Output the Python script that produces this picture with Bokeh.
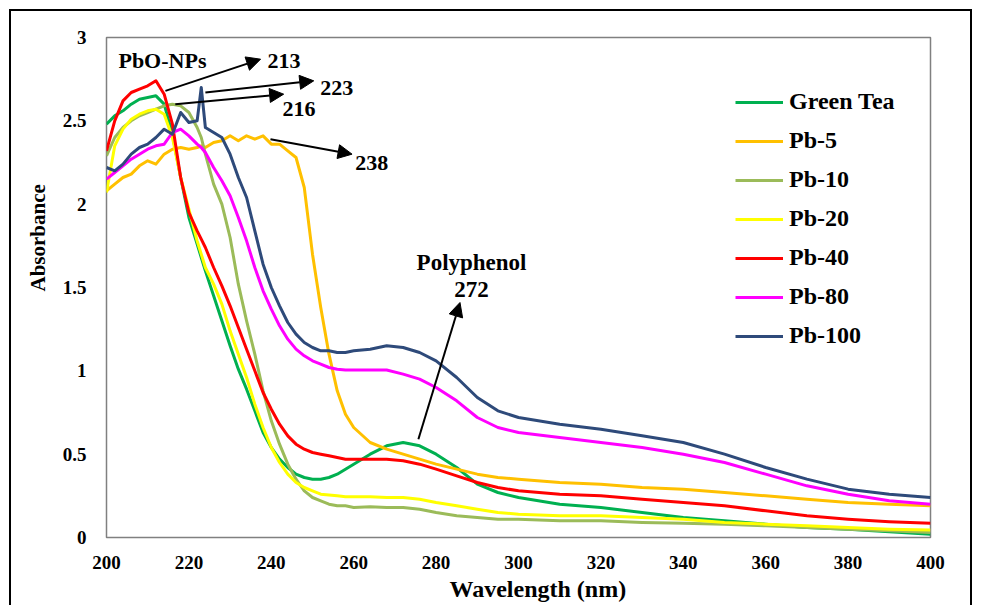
from bokeh.plotting import figure
from bokeh.models import Legend, LegendItem, Arrow, NormalHead, Label, FixedTicker, ColumnDataSource, Title
from bokeh.embed import file_html
from bokeh.resources import INLINE

# ---------------- data ----------------
wavelength = [200, 202, 204, 206, 208, 210, 212, 214, 216, 218, 220, 222, 223, 224, 226, 228, 230,
              232, 234, 236, 238, 240, 242, 244, 246, 248, 250, 252, 254, 256, 258, 260, 264, 268,
              272, 276, 280, 285, 290, 295, 300, 310, 320, 330, 340, 350, 360, 370, 380, 390, 400]

green_tea = [2.48, 2.53, 2.56, 2.60, 2.63, 2.64, 2.65, 2.60, 2.42, 2.16, 1.92, 1.76, 1.68, 1.60, 1.45, 1.30, 1.15,
             1.01, 0.89, 0.76, 0.63, 0.54, 0.47, 0.42, 0.38, 0.36, 0.35, 0.35, 0.36, 0.38, 0.41, 0.44, 0.50, 0.55,
             0.57, 0.55, 0.50, 0.42, 0.32, 0.27, 0.24, 0.20, 0.18, 0.15, 0.12, 0.10, 0.08, 0.06, 0.05, 0.035, 0.02]

pb_5 = [2.08, 2.12, 2.16, 2.18, 2.23, 2.26, 2.24, 2.30, 2.33, 2.34, 2.33, 2.34, 2.35, 2.34, 2.37, 2.38, 2.41,
        2.38, 2.41, 2.39, 2.41, 2.36, 2.36, 2.32, 2.28, 2.10, 1.70, 1.38, 1.10, 0.88, 0.74, 0.66, 0.57, 0.53,
        0.50, 0.47, 0.44, 0.41, 0.38, 0.36, 0.35, 0.33, 0.32, 0.30, 0.29, 0.27, 0.25, 0.23, 0.21, 0.20, 0.19]

pb_10 = [2.29, 2.40, 2.46, 2.50, 2.53, 2.55, 2.57, 2.59, 2.60, 2.59, 2.55, 2.46, 2.40, 2.30, 2.12, 2.00, 1.80,
         1.52, 1.30, 1.10, 0.88, 0.70, 0.56, 0.44, 0.35, 0.28, 0.24, 0.22, 0.20, 0.19, 0.19, 0.18, 0.185, 0.18,
         0.18, 0.17, 0.15, 0.13, 0.12, 0.11, 0.11, 0.10, 0.10, 0.09, 0.085, 0.08, 0.07, 0.06, 0.05, 0.04, 0.03]

pb_20 = [2.07, 2.35, 2.45, 2.51, 2.54, 2.56, 2.57, 2.54, 2.40, 2.16, 1.97, 1.78, 1.70, 1.62, 1.52, 1.40, 1.24,
         1.10, 0.96, 0.80, 0.66, 0.54, 0.45, 0.38, 0.33, 0.30, 0.28, 0.26, 0.255, 0.25, 0.245, 0.245, 0.245, 0.24,
         0.24, 0.23, 0.21, 0.19, 0.17, 0.15, 0.14, 0.13, 0.13, 0.12, 0.11, 0.09, 0.08, 0.07, 0.06, 0.05, 0.045]

pb_40 = [2.32, 2.50, 2.62, 2.67, 2.69, 2.71, 2.74, 2.66, 2.48, 2.16, 1.95, 1.84, 1.79, 1.74, 1.62, 1.51, 1.39,
         1.26, 1.13, 1.00, 0.87, 0.77, 0.68, 0.61, 0.56, 0.53, 0.51, 0.50, 0.49, 0.48, 0.47, 0.47, 0.47, 0.47,
         0.46, 0.44, 0.41, 0.37, 0.33, 0.30, 0.28, 0.26, 0.25, 0.23, 0.21, 0.19, 0.16, 0.13, 0.11, 0.095, 0.085]

pb_80 = [2.15, 2.19, 2.23, 2.27, 2.30, 2.33, 2.35, 2.36, 2.43, 2.45, 2.41, 2.36, 2.34, 2.31, 2.22, 2.14, 2.05,
         1.92, 1.78, 1.62, 1.48, 1.37, 1.27, 1.19, 1.13, 1.09, 1.06, 1.04, 1.02, 1.01, 1.005, 1.005, 1.005, 1.005,
         0.98, 0.95, 0.90, 0.82, 0.72, 0.66, 0.63, 0.60, 0.57, 0.54, 0.50, 0.45, 0.38, 0.31, 0.26, 0.22, 0.20]

pb_100 = [2.22, 2.20, 2.24, 2.30, 2.34, 2.36, 2.40, 2.45, 2.42, 2.55, 2.49, 2.50, 2.70, 2.46, 2.43, 2.40, 2.30,
          2.16, 2.04, 1.84, 1.64, 1.50, 1.39, 1.29, 1.22, 1.17, 1.14, 1.12, 1.12, 1.11, 1.11, 1.12, 1.13, 1.15,
          1.14, 1.11, 1.06, 0.96, 0.84, 0.76, 0.72, 0.68, 0.65, 0.61, 0.57, 0.50, 0.42, 0.35, 0.29, 0.26, 0.24]

series_names = ["Green Tea", "Pb-5", "Pb-10", "Pb-20", "Pb-40", "Pb-80", "Pb-100"]
series_values = [green_tea, pb_5, pb_10, pb_20, pb_40, pb_80, pb_100]
series_colors = ["#00B050", "#FFC000", "#9BBB59", "#FFFF00", "#FF0000", "#FF00FF", "#2E4A7A"]

x_ticks = [200, 220, 240, 260, 280, 300, 320, 340, 360, 380, 400]
y_ticks = [0, 0.5, 1, 1.5, 2, 2.5, 3]
y_tick_labels = ["0", "0.5", "1", "1.5", "2", "2.5", "3"]
x_title = "Wavelength (nm)"
y_title = "Absorbance"

# annotation arrows: (x_start, y_start, x_end, y_end)
arrows = [(214.3, 2.68, 237.4, 2.87),
          (224.0, 2.67, 250.3, 2.74),
          (216.7, 2.60, 243.0, 2.66),
          (239.8, 2.39, 259.6, 2.30),
          (275.7, 0.59, 285.8, 1.41)]
# annotation texts: (text, x, y, align, size)
notes = [("PbO-NPs", 202.9, 2.86, "left", "22px"),
         ("213", 239.1, 2.86, "left", "22px"),
         ("223", 251.9, 2.70, "left", "22px"),
         ("216", 242.7, 2.57, "left", "22px"),
         ("238", 260.4, 2.25, "left", "22px"),
         ("Polyphenol", 288.6, 1.65, "center", "23px"),
         ("272", 288.6, 1.49, "center", "23px")]

FONT = "Liberation Serif, Times New Roman, Tinos, serif"

# ---------------- figure ----------------
p = figure(width=963, height=596, x_range=(200, 400), y_range=(0, 3),
           output_backend="svg", toolbar_location=None,
           min_border_left=95, min_border_right=44, min_border_top=26, min_border_bottom=70)
p.styles = {"margin-left": "9px", "margin-top": "9px",
            "border-left": "2px solid black", "border-top": "2px solid black",
            "border-right": "2px solid black"}

p.xgrid.visible = False
p.ygrid.visible = False
p.outline_line_color = "#808080"
p.outline_line_width = 1.5
p.background_fill_color = "white"
p.border_fill_color = "white"

for ax in (p.xaxis[0], p.yaxis[0]):
    ax.axis_line_color = None
    ax.major_tick_line_color = None
    ax.minor_tick_line_color = None
    ax.major_label_text_font = FONT
    ax.major_label_text_font_style = "bold"
    ax.major_label_text_font_size = "19px"
    ax.major_label_text_color = "black"

p.xaxis.ticker = FixedTicker(ticks=x_ticks)
p.yaxis.ticker = FixedTicker(ticks=y_ticks)
p.yaxis.major_label_overrides = {t: lab for t, lab in zip(y_ticks, y_tick_labels)}
p.xaxis.major_label_standoff = 12
p.yaxis.major_label_standoff = 14

# axis titles (offset from centre as in the original)
p.add_layout(Title(text=x_title, align="left", offset=343, standoff=5,
                   text_font=FONT, text_font_style="bold", text_font_size="24px",
                   text_color="black"), "below")
p.add_layout(Title(text=y_title, align="left", offset=246, standoff=20,
                   text_font=FONT, text_font_style="bold", text_font_size="21px",
                   text_color="black"), "left")

items = []
for name, vals, col in zip(series_names, series_values, series_colors):
    src = ColumnDataSource(dict(x=wavelength, y=vals))
    r = p.line("x", "y", source=src, line_color=col, line_width=3, line_join="round")
    items.append(LegendItem(label=name, renderers=[r]))

legend = Legend(items=items, location=(629, 188),
                label_text_font=FONT, label_text_font_style="bold", label_text_font_size="24px",
                label_text_color="black",
                glyph_width=48, glyph_height=20, label_standoff=6, spacing=12,
                padding=0, margin=0, border_line_color=None, background_fill_alpha=0)
p.add_layout(legend)

for xs, ys, xe, ye in arrows:
    p.add_layout(Arrow(end=NormalHead(size=14, fill_color="black", line_color="black"),
                       x_start=xs, y_start=ys, x_end=xe, y_end=ye,
                       line_width=2, line_color="black"))

for txt, x, y, align, size in notes:
    p.add_layout(Label(x=x, y=y, text=txt, text_font=FONT, text_font_style="bold",
                       text_font_size=size, text_align=align, text_baseline="middle",
                       text_color="black"))

open("out.html", "w").write(file_html(p, INLINE))
